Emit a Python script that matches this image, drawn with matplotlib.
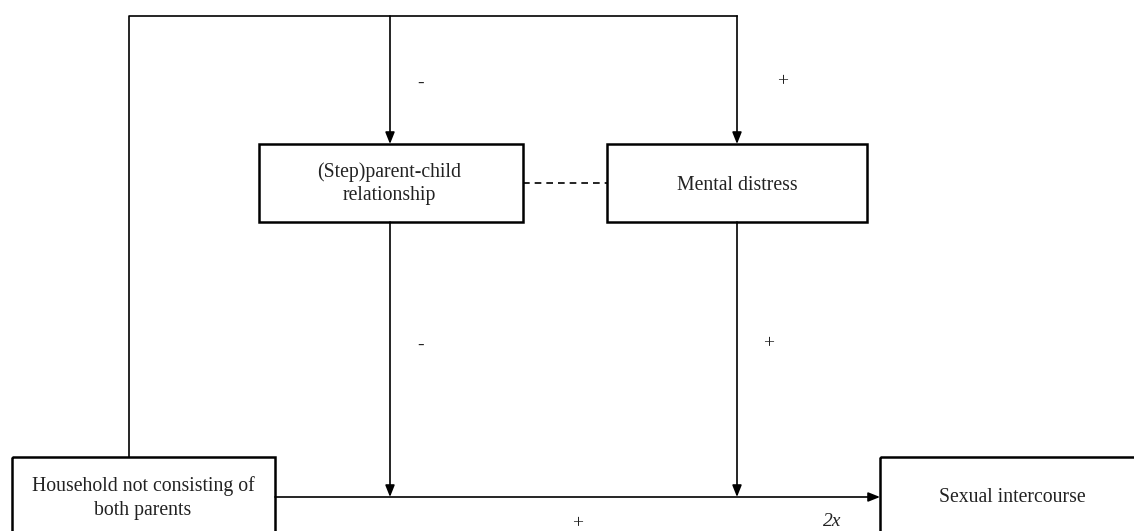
import matplotlib.pyplot as plt
from matplotlib.patches import Rectangle

# Boxes: label, (x0, y0, x1, y1) in pixel-like coords
box_labels = ["Household not consisting of\nboth parents",
              "(Step)parent-child\nrelationship",
              "Mental distress",
              "Sexual intercourse"]
box_coords = [(12, 457, 275, 545),
              (259, 144, 523, 222),
              (607, 144, 867, 222),
              (880, 457, 1145, 545)]
box_text_pos = [(143, 498), (389, 184), (737, 185), (1012, 498)]

# path signs
sign_labels = ["-", "+", "-", "+", "+"]
sign_pos = [(421, 83), (783, 82), (421, 345), (769, 344), (578, 524)]

fig = plt.figure(figsize=(11.34, 5.31), dpi=100)
ax = fig.add_axes([0, 0, 1, 1])
ax.set_xlim(0, 1134)
ax.set_ylim(531, 0)
ax.axis("off")

for (x0, y0, x1, y1) in box_coords:
    ax.add_patch(Rectangle((x0, y0), x1 - x0, y1 - y0, fill=False,
                           edgecolor="black", linewidth=1.8, zorder=3))

for lab, (x, y) in zip(box_labels, box_text_pos):
    ax.text(x, y, lab, ha="center", va="center", family="Liberation Serif",
            fontsize=14.2, linespacing=1.3, color="#222222")

lw = 1.2
arrow = dict(arrowstyle="-|>,head_length=0.7,head_width=0.28", color="black",
             lw=lw, shrinkA=0, shrinkB=0)

# outer loop from household box to the top
ax.plot([129, 129, 737], [457, 16, 16], color="black", lw=lw)
ax.annotate("", xy=(390, 144), xytext=(390, 16), arrowprops=arrow)
ax.annotate("", xy=(737, 144), xytext=(737, 16), arrowprops=arrow)

# dashed correlation
ax.plot([523, 607], [183, 183], color="black", lw=lw, ls=(0, (4, 3)))

# main path
ax.annotate("", xy=(880, 497), xytext=(275, 497), arrowprops=arrow)
ax.annotate("", xy=(390, 497), xytext=(390, 222), arrowprops=arrow)
ax.annotate("", xy=(737, 497), xytext=(737, 222), arrowprops=arrow)

for lab, (x, y) in zip(sign_labels, sign_pos):
    ax.text(x, y, lab, ha="center", va="center", family="Liberation Serif",
            fontsize=14, color="#222222")
ax.text(832, 521, "2x", ha="center", va="center", family="Liberation Serif",
        fontsize=14, style="italic", color="#222222")

fig.savefig("out.png", dpi=100)
